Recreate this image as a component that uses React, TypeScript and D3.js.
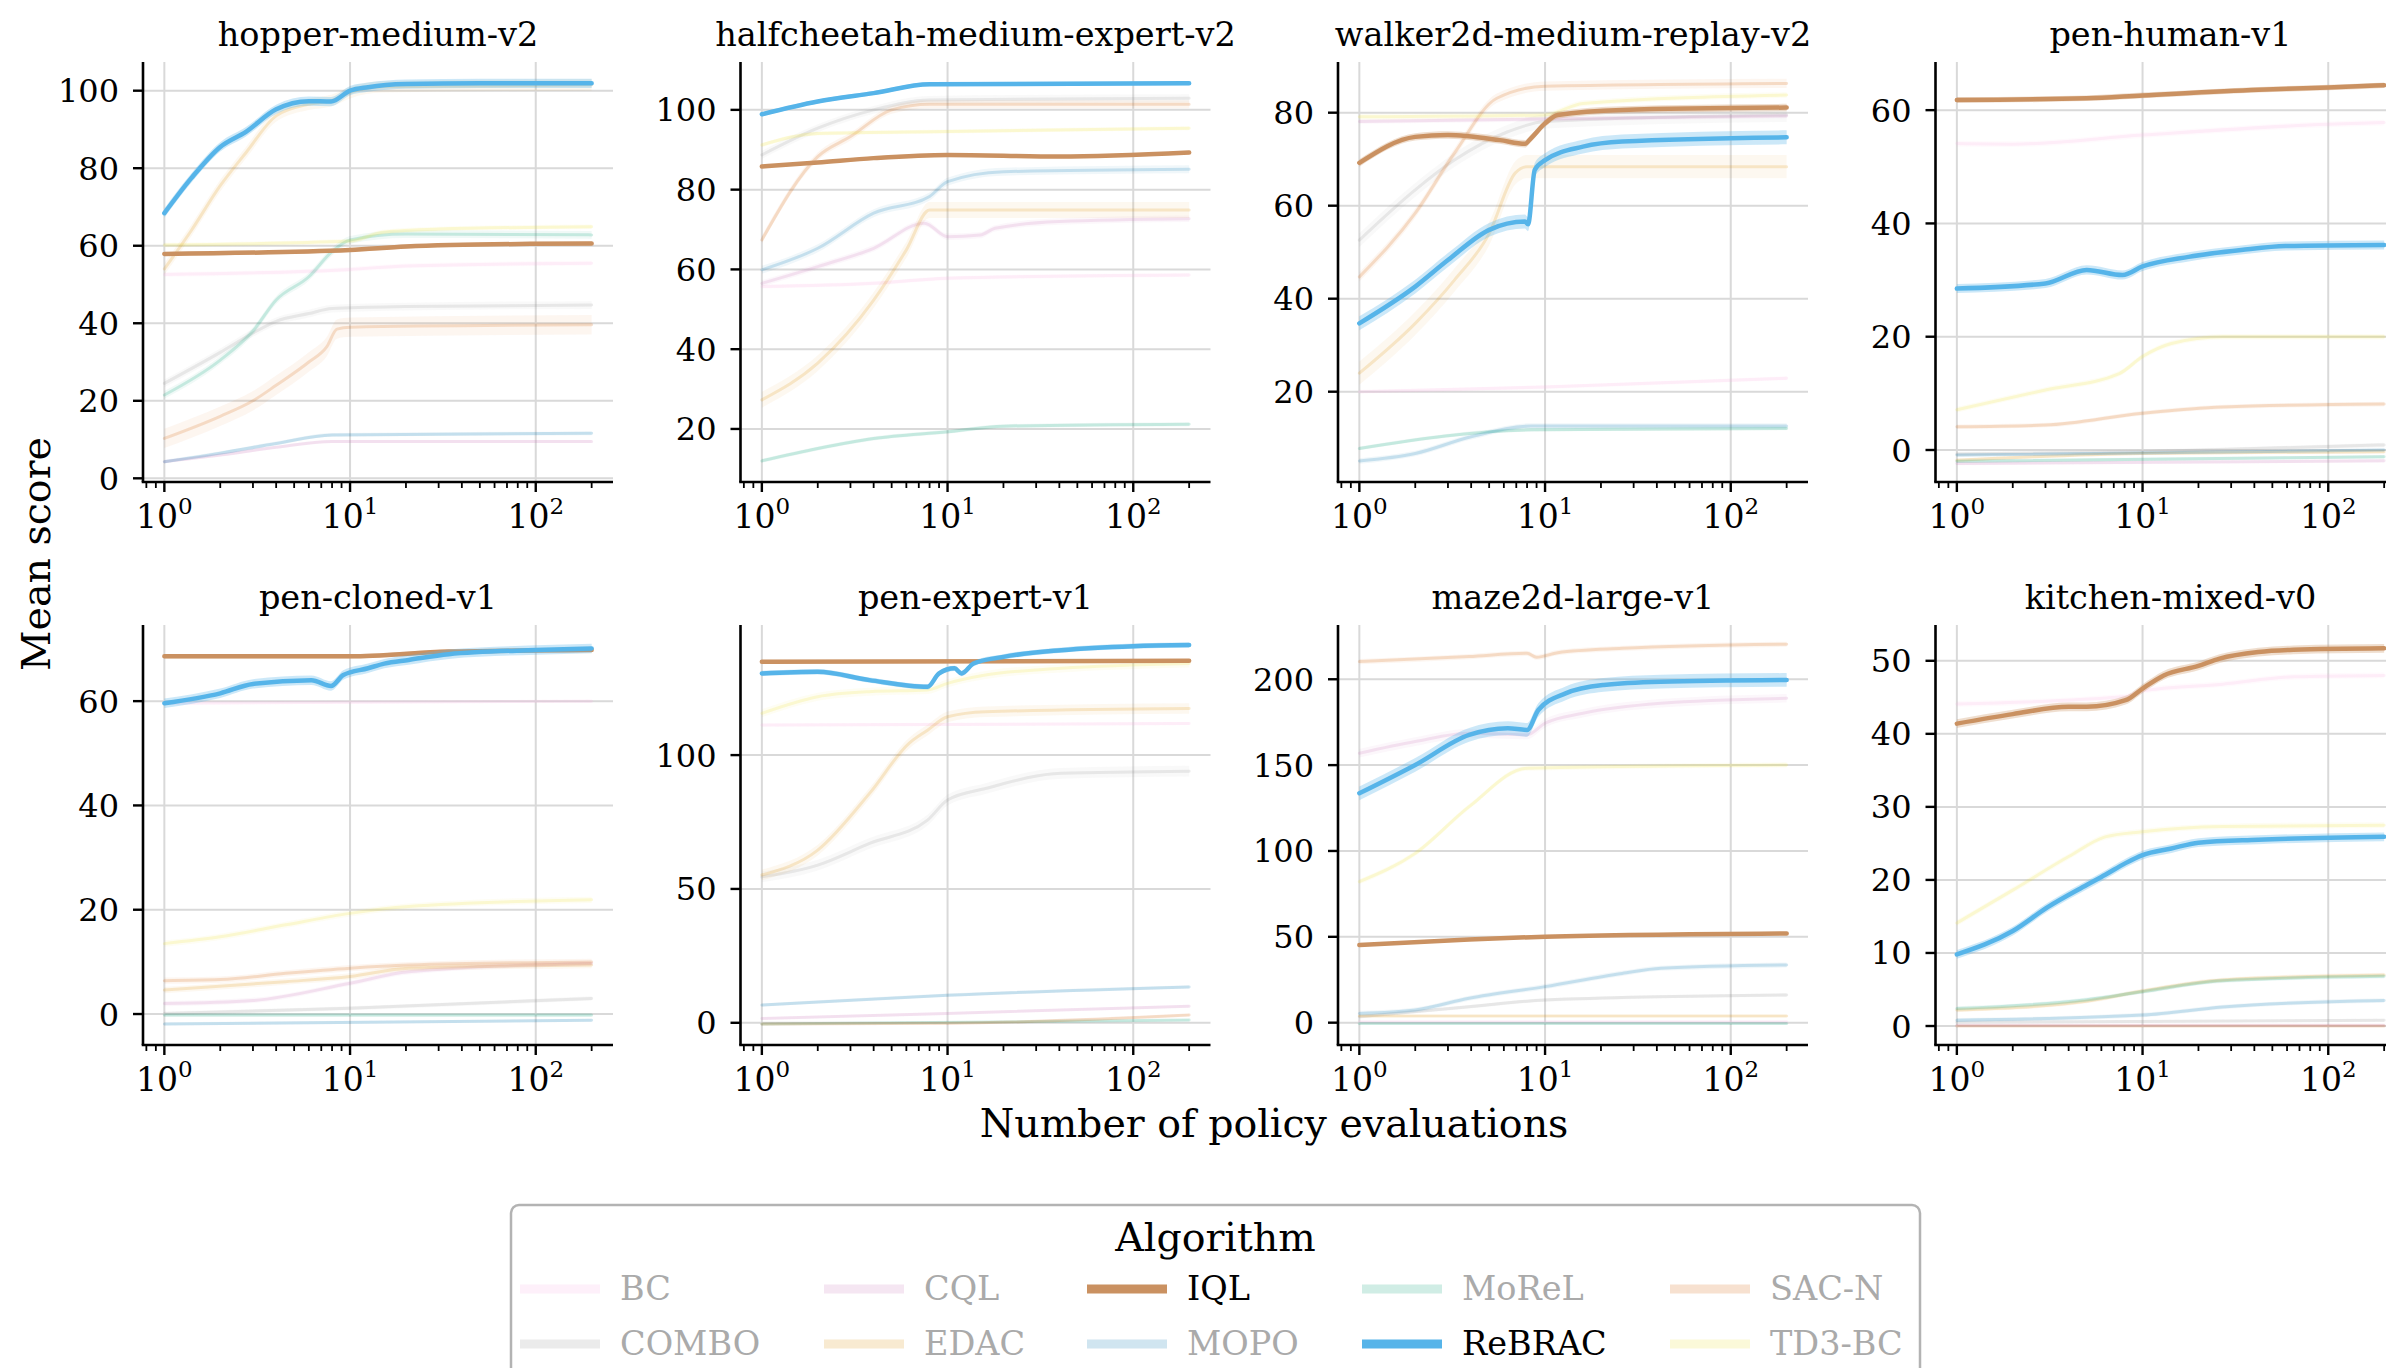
import React from 'react';
import * as d3 from 'd3';

type Pt = [number, number];
type Series = { pts: Pt[]; ci: number };

// ---------- data ----------
const ALGORITHMS = ['BC', 'COMBO', 'CQL', 'EDAC', 'IQL', 'MOPO', 'MoReL', 'ReBRAC', 'SAC-N', 'TD3-BC'];
const ALGO_COLORS = ['#FBAFE4', '#949494', '#CC78BC', '#DE8F05', '#CA9161', '#0173B2', '#029E73', '#56B4E9', '#D55E00', '#ECE133'];
const HIGHLIGHTED = ['IQL', 'ReBRAC'];

const DATASETS = [
  'hopper-medium-v2', 'halfcheetah-medium-expert-v2', 'walker2d-medium-replay-v2', 'pen-human-v1',
  'pen-cloned-v1', 'pen-expert-v1', 'maze2d-large-v1', 'kitchen-mixed-v0',
];
const Y_DOMAINS: [number, number][] = [
  [-0.95, 107.4], [6.7, 112], [0.58, 90.9], [-5.65, 68.5],
  [-5.94, 74.6], [-8.3, 148.6], [-13, 231.6], [-2.6, 54.9],
];
const Y_TICKS = [
  [0, 20, 40, 60, 80, 100], [20, 40, 60, 80, 100], [20, 40, 60, 80], [0, 20, 40, 60],
  [0, 20, 40, 60], [0, 50, 100], [0, 50, 100, 150, 200], [0, 10, 20, 30, 40, 50],
];
const X_DOMAIN: [number, number] = [Math.pow(10, -0.115), Math.pow(10, 2.416)];
const X_MAJOR = [1, 10, 100];
const X_MINOR = [0.8, 0.9, 2, 3, 4, 5, 6, 7, 8, 9, 20, 30, 40, 50, 60, 70, 80, 90, 200];

const hopperMedium: Record<string, Series> = {
  BC: { pts: [[1, 52.6], [10, 53.9], [20, 54.8], [200, 55.5]], ci: 0.6 },
  COMBO: { pts: [[1, 24.5], [2, 32.5], [3, 37.5], [4, 40.5], [6, 42.5], [8, 43.8], [20, 44.3], [200, 44.7]], ci: 1 },
  CQL: { pts: [[1, 4.3], [2, 6], [4, 8], [8, 9.5], [200, 9.5]], ci: 0.4 },
  EDAC: { pts: [[1, 54], [1.4, 64], [2, 75.5], [2.75, 84], [4, 93.5], [6, 96.5], [8, 97.5], [10, 99.5], [15, 101], [200, 101.5]], ci: 1.5 },
  IQL: { pts: [[1, 57.9], [10, 58.9], [20, 59.8], [100, 60.5], [200, 60.6]], ci: 0.5 },
  MOPO: { pts: [[1, 4.3], [2, 6.5], [4, 9], [8, 11.2], [200, 11.6]], ci: 0.5 },
  MoReL: { pts: [[1, 21.5], [2, 30.5], [3, 38], [4, 46], [6, 52], [8, 58.5], [10, 61.5], [20, 63], [200, 62.8]], ci: 1 },
  ReBRAC: { pts: [[1, 68.4], [1.4, 77.5], [2, 85.5], [2.75, 89.4], [4, 95.2], [6, 97.3], [7.9, 97.2], [10, 100], [12.5, 100.9], [20, 101.7], [50, 101.9], [200, 101.9]], ci: 1.2 },
  'SAC-N': { pts: [[1, 10.3], [2, 16], [3, 20], [4, 24], [6, 30], [7.5, 34], [8.5, 38.5], [10, 39], [200, 39.6]], ci: 2.5 },
  'TD3-BC': { pts: [[1, 60.2], [10, 61.2], [15, 63.5], [30, 64.3], [200, 64.9]], ci: 0.6 },
};

const halfcheetahMediumExpert: Record<string, Series> = {
  BC: { pts: [[1, 55.7], [4, 56.5], [10, 57.8], [200, 58.6]], ci: 0.5 },
  COMBO: { pts: [[1, 88.7], [2, 95.4], [4, 100], [8, 102.5], [200, 102.9]], ci: 1 },
  CQL: { pts: [[1, 56.5], [2, 60.7], [4, 65.3], [7.5, 71.6], [10, 68.2], [15, 68.6], [18, 70.3], [40, 72], [200, 72.7]], ci: 0.8 },
  EDAC: { pts: [[1, 27.3], [2, 36.5], [4, 52.3], [6, 64.9], [8, 74.9], [200, 74.9]], ci: 2 },
  IQL: { pts: [[1, 85.8], [2, 86.8], [4, 87.9], [10, 88.7], [40, 88.3], [200, 89.3]], ci: 0.4 },
  MOPO: { pts: [[1, 59.9], [2, 65.3], [4, 74.1], [8, 78.3], [10, 82], [20, 84.5], [200, 85.1]], ci: 1 },
  MoReL: { pts: [[1, 12], [2, 15.1], [4, 17.6], [10, 19.3], [20, 20.7], [200, 21.2]], ci: 0.5 },
  ReBRAC: { pts: [[1, 98.9], [2, 102.1], [4, 104.2], [8, 106.4], [200, 106.7]], ci: 0.5 },
  'SAC-N': { pts: [[1, 67.4], [2, 88.3], [3, 93.3], [5, 100], [8, 101.4], [200, 101.4]], ci: 1 },
  'TD3-BC': { pts: [[1, 91.2], [2, 94.1], [10, 94.6], [200, 95.4]], ci: 0.5 },
};

const walker2dMediumReplay: Record<string, Series> = {
  BC: { pts: [[1, 20], [10, 21], [200, 22.9]], ci: 0.4 },
  COMBO: { pts: [[1, 52.6], [2, 63.4], [3.25, 69.8], [6.3, 75.9], [10, 78.1], [200, 79.5]], ci: 1.5 },
  CQL: { pts: [[1, 78.1], [200, 79.3]], ci: 0.5 },
  EDAC: { pts: [[1, 24], [2, 34.7], [3.25, 44], [5, 54], [6.9, 67], [8, 68.4], [200, 68.4]], ci: 2.5 },
  IQL: { pts: [[1, 69.2], [2, 74.8], [3, 75.2], [5.7, 74.1], [7.8, 73.3], [8.4, 74.5], [10, 77.7], [11.7, 79.5], [26, 80.6], [200, 81.1]], ci: 0.8 },
  MOPO: { pts: [[1, 5.1], [2, 6.7], [4, 10.3], [8.4, 12.6], [200, 12.6]], ci: 0.6 },
  MoReL: { pts: [[1, 7.8], [8.4, 11.8], [200, 12.1]], ci: 0.4 },
  ReBRAC: { pts: [[1, 34.7], [2, 42.6], [3, 48.3], [5, 54.8], [7.8, 56.6], [8.1, 56], [8.8, 67.7], [10, 69.8], [16, 72.7], [26, 73.8], [200, 74.7]], ci: 1.5 },
  'SAC-N': { pts: [[1, 44.7], [2, 58.4], [3.25, 71.3], [5.5, 83.1], [10, 85.7], [200, 86.3]], ci: 1 },
  'TD3-BC': { pts: [[1, 79.1], [10, 79.5], [16, 82], [200, 83.8]], ci: 0.6 },
};

const penHuman: Record<string, Series> = {
  BC: { pts: [[1, 54.1], [2, 54], [10, 55.6], [100, 57.5], [200, 57.8]], ci: 0.5 },
  COMBO: { pts: [[1, -0.7], [10, -0.3], [200, 0.9]], ci: 0.4 },
  CQL: { pts: [[1, -2.4], [200, -1.9]], ci: 0.3 },
  EDAC: { pts: [[1, -1.8], [10, -0.6], [200, -0.3]], ci: 0.3 },
  IQL: { pts: [[1, 61.8], [5, 62.1], [10, 62.6], [42, 63.6], [100, 64], [200, 64.4]], ci: 0.5 },
  MOPO: { pts: [[1, -0.9], [200, 0]], ci: 0.3 },
  MoReL: { pts: [[1, -2], [200, -1.2]], ci: 0.3 },
  ReBRAC: { pts: [[1, 28.5], [3, 29.4], [5, 31.8], [7.8, 30.9], [10, 32.4], [17.7, 34.1], [34, 35.3], [59, 36], [200, 36.2]], ci: 0.8 },
  'SAC-N': { pts: [[1, 4.1], [3, 4.4], [10, 6.5], [27, 7.6], [200, 8.1]], ci: 0.4 },
  'TD3-BC': { pts: [[1, 7.1], [3, 10.6], [7.5, 13.5], [10, 16.5], [14.3, 18.8], [27, 20], [200, 20]], ci: 0.5 },
};

const penCloned: Record<string, Series> = {
  BC: { pts: [[1, 59.6], [200, 60]], ci: 0.3 },
  COMBO: { pts: [[1, 0.1], [10, 1.1], [200, 3]], ci: 0.4 },
  CQL: { pts: [[1, 2], [3, 2.6], [10, 5.9], [20.7, 8.1], [200, 9.7]], ci: 0.5 },
  EDAC: { pts: [[1, 4.6], [4.5, 6.2], [10, 7.2], [20.7, 8.8], [200, 9.4]], ci: 0.6 },
  IQL: { pts: [[1, 68.6], [10, 68.6], [34, 69.5], [200, 69.8]], ci: 0.4 },
  MOPO: { pts: [[1, -1.9], [200, -1.2]], ci: 0.3 },
  MoReL: { pts: [[1, -0.2], [200, -0.2]], ci: 0.3 },
  ReBRAC: { pts: [[1, 59.6], [2, 61.5], [3, 63.3], [6.2, 64], [7.9, 62.9], [9.2, 65], [12.5, 66.3], [15.3, 67.2], [20.7, 67.9], [34, 69], [100, 69.8], [200, 70.1]], ci: 0.9 },
  'SAC-N': { pts: [[1, 6.4], [2, 6.6], [4.5, 7.8], [10, 8.8], [20.7, 9.4], [200, 10]], ci: 0.6 },
  'TD3-BC': { pts: [[1, 13.5], [2, 14.8], [4.5, 17.1], [10, 19.3], [20.7, 20.6], [200, 21.9]], ci: 0.6 },
};

const penExpert: Record<string, Series> = {
  BC: { pts: [[1, 111.2], [200, 111.8]], ci: 0.6 },
  COMBO: { pts: [[1, 54.5], [2, 58.9], [3.8, 67], [7.8, 75.7], [10, 83.2], [16, 87.5], [41, 93.2], [200, 94]], ci: 2 },
  CQL: { pts: [[1, 1.6], [10, 3.5], [200, 6.2]], ci: 0.5 },
  EDAC: { pts: [[1, 55.2], [2, 64.5], [3.8, 85.7], [6.2, 104.4], [7.8, 109.3], [10, 114.3], [16, 116.2], [200, 117.4]], ci: 2 },
  IQL: { pts: [[1, 134.9], [200, 135.2]], ci: 0.5 },
  MOPO: { pts: [[1, 6.6], [10, 10.3], [200, 13.4]], ci: 0.6 },
  MoReL: { pts: [[1, -0.5], [200, 1]], ci: 0.4 },
  ReBRAC: { pts: [[1, 130.5], [2, 131.1], [3.8, 128], [7.8, 125.5], [9, 130.5], [10.9, 132.4], [11.9, 130.5], [13.8, 134.2], [20, 136.7], [41, 139.2], [100, 140.7], [200, 141.1]], ci: 1 },
  'SAC-N': { pts: [[1, -0.5], [10, -0.2], [200, 2.9]], ci: 0.5 },
  'TD3-BC': { pts: [[1, 115.6], [2, 121.8], [3.8, 123.7], [7.8, 124.3], [10, 126.8], [16, 129.9], [41, 132.4], [200, 134.2]], ci: 1.5 },
};

const maze2dLarge: Record<string, Series> = {
  BC: { pts: [[1, 0.5], [200, 0.5]], ci: 0.5 },
  COMBO: { pts: [[1, 3.5], [3.9, 9.3], [10, 13.2], [200, 16.1]], ci: 1 },
  CQL: { pts: [[1, 156.9], [2, 163.7], [3.9, 168.5], [8, 167.6], [10, 174.4], [16, 180.2], [42, 186], [200, 188.9]], ci: 2.5 },
  EDAC: { pts: [[1, 3.9], [200, 3.9]], ci: 0.6 },
  IQL: { pts: [[1, 45.2], [3.9, 48.5], [10, 50.1], [200, 52]], ci: 0.8 },
  MOPO: { pts: [[1, 5.4], [2, 7.4], [3.9, 14.2], [10, 21], [26, 28.7], [42, 31.7], [200, 33.6]], ci: 1.5 },
  MoReL: { pts: [[1, -0.5], [200, -0.5]], ci: 0.5 },
  ReBRAC: { pts: [[1, 133.6], [2, 150.1], [3.9, 167.6], [6.3, 171.5], [8, 170.5], [9.2, 182.1], [12.9, 191.8], [20.7, 196.7], [42, 198.6], [200, 199.6]], ci: 4 },
  'SAC-N': { pts: [[1, 210.3], [3.9, 213.2], [8, 215.1], [9, 212.8], [11.7, 215.5], [26, 218], [200, 220.4]], ci: 1.5 },
  'TD3-BC': { pts: [[1, 82.1], [2, 98.6], [3.9, 125.8], [8, 148.2], [200, 150.1]], ci: 1.5 },
};

const kitchenMixed: Record<string, Series> = {
  BC: { pts: [[1, 44.1], [8.1, 45.1], [10, 45.9], [27, 46.8], [65, 47.8], [200, 48]], ci: 0.4 },
  COMBO: { pts: [[1, 0.5], [200, 0.8]], ci: 0.2 },
  CQL: { pts: [[1, 0.1], [200, 0.1]], ci: 0.1 },
  EDAC: { pts: [[1, 2.2], [5, 3.4], [10, 4.8], [27, 6.3], [200, 7]], ci: 0.3 },
  IQL: { pts: [[1, 41.4], [2, 42.7], [4, 43.7], [5, 43.7], [8.1, 44.6], [10, 46.2], [13, 48], [20, 49.3], [26, 50.3], [42, 51.2], [65, 51.5], [200, 51.7]], ci: 0.6 },
  MOPO: { pts: [[1, 0.8], [10, 1.5], [27, 2.6], [200, 3.5]], ci: 0.3 },
  MoReL: { pts: [[1, 2.4], [5, 3.6], [10, 4.7], [27, 6.2], [200, 6.8]], ci: 0.3 },
  ReBRAC: { pts: [[1, 9.8], [2, 13], [3.1, 16.3], [5, 19.3], [6.3, 20.7], [8.1, 22.3], [10, 23.4], [14.3, 24.3], [20, 25.1], [42, 25.5], [200, 25.9]], ci: 0.6 },
  'SAC-N': { pts: [[1, 0], [200, 0]], ci: 0.1 },
  'TD3-BC': { pts: [[1, 14.1], [2, 18.6], [4, 23.2], [6.3, 25.9], [10, 26.6], [27, 27.3], [200, 27.5]], ci: 0.4 },
};

const PANEL_SERIES = [
  hopperMedium, halfcheetahMediumExpert, walker2dMediumReplay, penHuman,
  penCloned, penExpert, maze2dLarge, kitchenMixed,
];

// ---------- layout ----------
const FIG_W = 2386;
const FIG_H = 1368;
const FONT = "'DejaVu Serif', serif";
const COL_X = [143, 740.5, 1338, 1935.5];
const ROW_Y = [62, 625];
const PW = 470;
const PH = 420;
const FADED_OPACITY = 0.18;

const LEGEND_COL_X = [520, 824, 1087, 1362, 1670];

function Panel({ idx }: { idx: number }) {
  const x0 = COL_X[idx % 4];
  const y0 = ROW_Y[Math.floor(idx / 4)];
  const xs = d3.scaleLog().domain(X_DOMAIN).range([0, PW]);
  const ys = d3.scaleLinear().domain(Y_DOMAINS[idx]).range([PH, 0]);
  const series = PANEL_SERIES[idx];
  const line = d3.line<Pt>().x((d) => xs(d[0])).y((d) => ys(d[1])).curve(d3.curveMonotoneX);
  const order = [
    ...ALGORITHMS.filter((a) => !HIGHLIGHTED.includes(a)),
    ...ALGORITHMS.filter((a) => HIGHLIGHTED.includes(a)),
  ];
  const clipId = `clip-${idx}`;
  return (
    <g transform={`translate(${x0},${y0})`}>
      <defs>
        <clipPath id={clipId}>
          <rect x={0} y={0} width={PW} height={PH} />
        </clipPath>
      </defs>
      {/* grid */}
      {Y_TICKS[idx].map((t) => (
        <line key={`gy${t}`} x1={0} x2={PW} y1={ys(t)} y2={ys(t)} stroke="#d9d9d9" strokeWidth={2} />
      ))}
      {X_MAJOR.map((t) => (
        <line key={`gx${t}`} x1={xs(t)} x2={xs(t)} y1={0} y2={PH} stroke="#d9d9d9" strokeWidth={2} />
      ))}
      {/* series */}
      <g clipPath={`url(#${clipId})`}>
        {order.map((a) => {
          const s = series[a];
          if (!s) return null;
          const color = ALGO_COLORS[ALGORITHMS.indexOf(a)];
          const hi = HIGHLIGHTED.includes(a);
          const area = d3
            .area<Pt>()
            .x((d) => xs(d[0]))
            .y0((d) => ys(d[1] - s.ci))
            .y1((d) => ys(d[1] + s.ci))
            .curve(d3.curveMonotoneX);
          return (
            <g key={a}>
              <path d={area(s.pts) || ''} fill={color} opacity={hi ? 0.3 : 0.06} />
              <path
                d={line(s.pts) || ''}
                fill="none"
                stroke={color}
                strokeWidth={hi ? 4.5 : 3}
                opacity={hi ? 1 : FADED_OPACITY}
                strokeLinejoin="round"
                strokeLinecap="round"
              />
            </g>
          );
        })}
      </g>
      {/* spines */}
      <line x1={0} x2={0} y1={0} y2={PH} stroke="#000" strokeWidth={2.6} />
      <line x1={-1.3} x2={PW} y1={PH} y2={PH} stroke="#000" strokeWidth={2.6} />
      {/* y ticks */}
      {Y_TICKS[idx].map((t) => (
        <g key={`yt${t}`}>
          <line x1={-10} x2={0} y1={ys(t)} y2={ys(t)} stroke="#000" strokeWidth={2.4} />
          <text x={-24} y={ys(t)} dy="0.36em" textAnchor="end" fontSize={32} fontFamily={FONT} fill="#000">
            {t}
          </text>
        </g>
      ))}
      {/* x ticks */}
      {X_MAJOR.map((t, i) => (
        <g key={`xt${t}`}>
          <line x1={xs(t)} x2={xs(t)} y1={PH} y2={PH + 10} stroke="#000" strokeWidth={2.4} />
          <text x={xs(t)} y={PH + 46} textAnchor="middle" fontSize={33} fontFamily={FONT} fill="#000">
            <tspan>10</tspan>
            <tspan dy={-14} fontSize={23}>{i}</tspan>
          </text>
        </g>
      ))}
      {X_MINOR.map((t) => (
        <line key={`xm${t}`} x1={xs(t)} x2={xs(t)} y1={PH} y2={PH + 6} stroke="#000" strokeWidth={1.8} />
      ))}
      {/* title */}
      <text x={PW / 2} y={-16} textAnchor="middle" fontSize={33.5} fontFamily={FONT} fill="#000">
        {DATASETS[idx]}
      </text>
    </g>
  );
}

function Legend() {
  return (
    <g>
      <rect x={511} y={1205} width={1409} height={220} rx={8} fill="#fff" stroke="#b3b3b3" strokeWidth={2.5} />
      <text x={1215.5} y={1251} textAnchor="middle" fontSize={39.5} fontFamily={FONT} fill="#000">
        Algorithm
      </text>
      {ALGORITHMS.map((a, i) => {
        const col = Math.floor(i / 2);
        const row = i % 2;
        const bx = LEGEND_COL_X[col];
        const by = row === 0 ? 1300 : 1355;
        const hi = HIGHLIGHTED.includes(a);
        return (
          <g key={a}>
            <line
              x1={bx}
              x2={bx + 80}
              y1={by - 11}
              y2={by - 11}
              stroke={ALGO_COLORS[i]}
              strokeWidth={9}
              opacity={hi ? 1 : FADED_OPACITY}
            />
            <text x={bx + 100} y={by} fontSize={33.5} fontFamily={FONT} fill={hi ? '#000' : '#aaaaaa'}>
              {a}
            </text>
          </g>
        );
      })}
    </g>
  );
}

export default function App() {
  return (
    <div
      style={{
        position: 'fixed',
        left: 0,
        top: 0,
        width: FIG_W,
        height: FIG_H,
        overflow: 'hidden',
        background: '#fff',
      }}
    >
      <svg width={FIG_W} height={FIG_H} style={{ display: 'block' }}>
        <rect x={0} y={0} width={FIG_W} height={FIG_H} fill="#fff" />
        {DATASETS.map((d, i) => (
          <Panel key={d} idx={i} />
        ))}
        <text
          transform="translate(50,554) rotate(-90)"
          textAnchor="middle"
          fontSize={39.5}
          fontFamily={FONT}
          fill="#000"
        >
          Mean score
        </text>
        <text x={1274} y={1137} textAnchor="middle" fontSize={39.5} fontFamily={FONT} fill="#000">
          Number of policy evaluations
        </text>
        <Legend />
      </svg>
    </div>
  );
}
